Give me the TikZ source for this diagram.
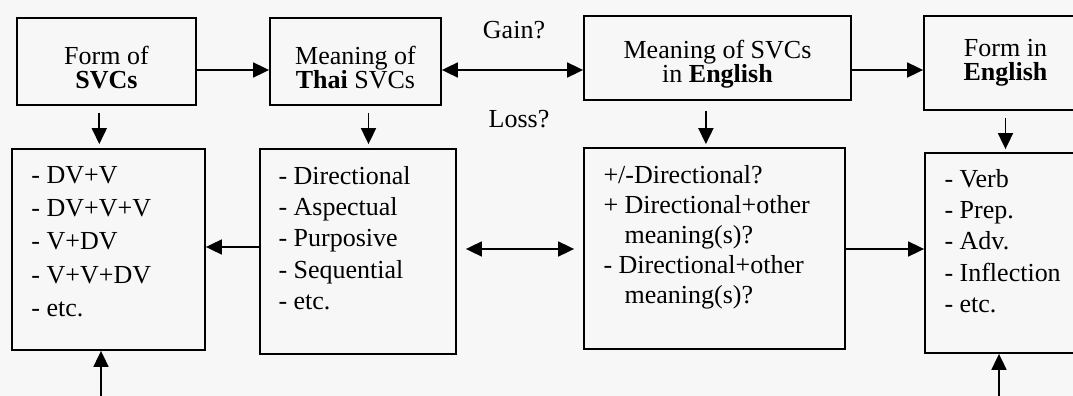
\documentclass[tikz,border=0pt]{standalone}
\usepackage{fontspec}
\setmainfont{Liberation Serif}
\usetikzlibrary{arrows.meta,positioning}
\newcommand{\hdgap}{\rule{0pt}{15pt}}

\begin{document}
\begin{tikzpicture}[
  x=0.5pt, y=-0.5pt,
  >={Triangle[length=8pt,width=7.5pt]},
  box/.style={draw,line width=0.9pt,align=center,inner sep=2pt,
    font=\fontsize{13}{12}\selectfont},
  lst/.style={inner sep=0pt,align=left,font=\fontsize{13}{15.6}\selectfont},
  lbl/.style={inner sep=1pt,font=\fontsize{13}{13}\selectfont},
  arr/.style={->,line width=0.9pt}
]
  \fill[black!3] (0,0) rectangle (1073,396);
  \useasboundingbox (0,0) rectangle (1073,396);
  \coordinate (toprow) at (0,70);
  \coordinate (lowrow) at (0,249);
  \coordinate (botL) at (101,396.9);
  \coordinate (botR) at (999,396.9);
  % headings
  \node[box,minimum width=89.5pt,minimum height=43.5pt] (FormTh) at (106.5,61.5) {\hdgap Form of\\\textbf{SVCs}};
  \node[box,minimum width=85.5pt,minimum height=43.5pt] (MeanTh) at (355.5,61.5) {\hdgap Meaning of\\\textbf{Thai} SVCs};
  \node[box,minimum width=133.5pt,minimum height=42pt] (MeanEn) at (717.5,58) {\hdgap Meaning of SVCs\\in \textbf{English}};
  \node[box,minimum width=81.5pt,minimum height=47pt] (FormEn) at (1005.5,63) {Form in\\\textbf{English}};
  \node[lbl] (gain) at (514,30) {Gain?};
  \node[lbl] (loss) at (519,119) {Loss?};
  % list boxes
  \node[box,minimum width=96.5pt,minimum height=100.5pt] (FormThL) at (108.5,249.5) {};
  \node[box,minimum width=98pt,minimum height=102.5pt] (MeanThL) at (358,251.5) {};
  \node[box,minimum width=130.5pt,minimum height=100.5pt] (MeanEnL) at (714.5,248.5) {};
  \node[box,minimum width=82.5pt,minimum height=100pt] (FormEnL) at (1007.5,253) {};
  \node[lst,font=\fontsize{13}{16.6}\selectfont,below right=9pt and 10pt of FormThL.north west] (FormThT)
    {- DV+V\\- DV+V+V\\- V+DV\\- V+V+DV\\- etc.};
  \node[lst,below right=9pt and 9.5pt of MeanThL.north west] (MeanThT)
    {- Directional\\- Aspectual\\- Purposive\\- Sequential\\- etc.};
  \node[lst,font=\fontsize{13}{15}\selectfont,below right=9pt and 10pt of MeanEnL.north west] (MeanEnT)
    {+/-Directional?\\+ Directional+other\\\phantom{+ }meaning(s)?\\- Directional+other\\\phantom{+ }meaning(s)?};
  \node[lst,below right=8.5pt and 10pt of FormEnL.north west] (FormEnT)
    {- Verb\\- Prep.\\- Adv.\\- Inflection\\- etc.};
  % top row arrows
  \draw[arr] (FormTh.east |- toprow) -- (MeanTh.west |- toprow);
  \draw[arr,<->] (MeanTh.east |- toprow) -- (MeanEn.west |- toprow);
  \draw[arr] (MeanEn.east |- toprow) -- (FormEn.west |- toprow);
  % down arrows
  \draw[arr,shorten <=3.5pt,shorten >=2pt] ([xshift=-3.6pt]FormTh.south) -- ([xshift=-3.6pt]FormTh.south |- FormThL.north);
  \draw[arr,shorten <=3.5pt,shorten >=2pt] ([xshift=6.5pt]MeanTh.south) -- ([xshift=6.5pt]MeanTh.south |- MeanThL.north);
  \draw[arr,shorten <=5pt,shorten >=1.5pt] ([xshift=-5.8pt]MeanEn.south) -- ([xshift=-5.8pt]MeanEn.south |- MeanEnL.north);
  \draw[arr,shorten <=3.5pt,shorten >=1.5pt] (FormEn.south) -- (FormEn.south |- FormEnL.north);
  % lower row arrows
  \draw[arr] ([yshift=1pt]MeanThL.west |- lowrow) -- ([yshift=1pt]FormThL.east |- lowrow);
  \draw[arr,<->,shorten <=4.5pt,shorten >=4.5pt] (MeanThL.east |- lowrow) -- (MeanEnL.west |- lowrow);
  \draw[arr] (MeanEnL.east |- lowrow) -- (FormEnL.west |- lowrow);
  % loop along the bottom
  \draw[arr,<->] (botL |- FormThL.south) -- (botL) -- (botR) -- (botR |- FormEnL.south);
\end{tikzpicture}
\end{document}
